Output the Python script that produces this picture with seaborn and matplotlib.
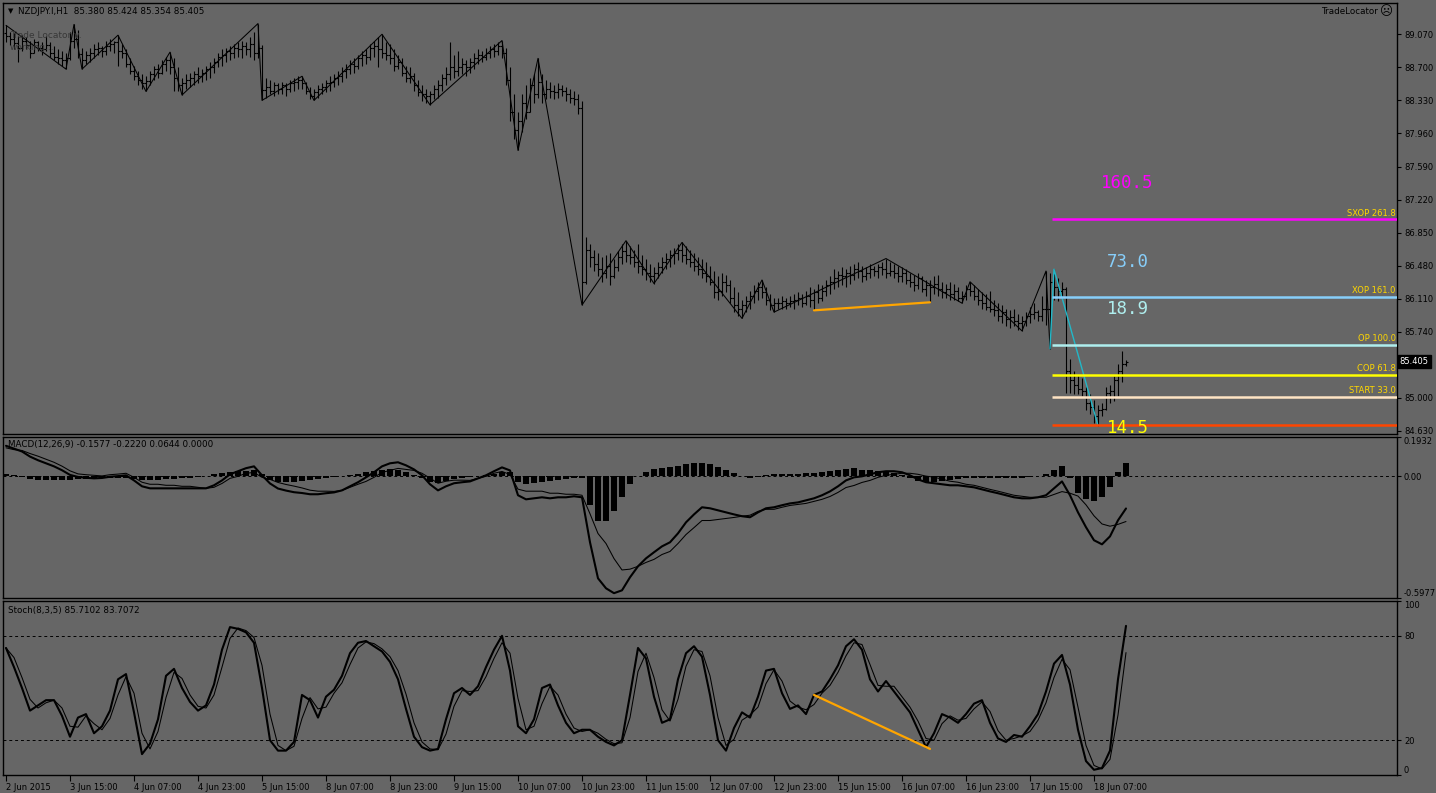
import numpy as np
import pandas as pd
import seaborn as sns
import matplotlib.pyplot as plt

sns.set_theme(style="ticks")
plt.rcParams['font.family'] = ['DejaVu Sans']

# --------------------- data: NZDJPY H1 bars (one value per bar) ---------------------
highs = [
    89.17, 89.10, 89.08, 89.05, 89.06, 89.04, 89.00, 89.02, 89.00, 88.98,
    89.05, 88.98, 88.94, 88.90, 88.88, 88.86, 89.10, 89.18, 89.12, 88.92,
    88.88, 88.92, 88.96, 88.98, 88.94, 89.00, 89.02, 89.00, 89.06, 88.96,
    88.90, 88.80, 88.72, 88.66, 88.62, 88.60, 88.66, 88.72, 88.74, 88.78,
    88.82, 88.87, 88.80, 88.70, 88.58, 88.62, 88.64, 88.66, 88.70, 88.68,
    88.72, 88.76, 88.80, 88.86, 88.90, 88.92, 88.94, 88.96, 88.98, 89.00,
    88.98, 89.04, 89.10, 89.19, 88.95, 88.58, 88.56, 88.54, 88.52, 88.54,
    88.52, 88.56, 88.58, 88.60, 88.60, 88.54, 88.48, 88.46, 88.50, 88.52,
    88.56, 88.60, 88.62, 88.66, 88.70, 88.74, 88.78, 88.80, 88.84, 88.88,
    88.90, 88.96, 89.00, 89.04, 89.07, 88.98, 88.96, 88.90, 88.84, 88.80,
    88.72, 88.70, 88.64, 88.56, 88.50, 88.46, 88.44, 88.50, 88.56, 88.62,
    88.70, 88.98, 88.84, 88.88, 88.80, 88.78, 88.80, 88.86, 88.90, 88.88,
    88.92, 88.94, 88.96, 88.98, 89.00, 88.92, 88.70, 88.40, 88.20, 88.40,
    88.50, 88.58, 88.62, 88.80, 88.62, 88.56, 88.54, 88.50, 88.52, 88.50,
    88.48, 88.46, 88.44, 88.40, 88.32, 86.80, 86.72, 86.66, 86.62, 86.58,
    86.60, 86.62, 86.56, 86.64, 86.72, 86.76, 86.70, 86.66, 86.72, 86.60,
    86.56, 86.50, 86.46, 86.52, 86.58, 86.62, 86.66, 86.68, 86.72, 86.74,
    86.70, 86.66, 86.62, 86.58, 86.56, 86.52, 86.48, 86.42, 86.36, 86.40,
    86.38, 86.32, 86.24, 86.18, 86.10, 86.14, 86.20, 86.26, 86.30, 86.32,
    86.24, 86.16, 86.12, 86.12, 86.14, 86.12, 86.14, 86.16, 86.18, 86.16,
    86.20, 86.24, 86.22, 86.28, 86.26, 86.32, 86.36, 86.44, 86.42, 86.46,
    86.44, 86.48, 86.50, 86.52, 86.48, 86.46, 86.50, 86.48, 86.50, 86.52,
    86.56, 86.52, 86.50, 86.48, 86.46, 86.44, 86.40, 86.38, 86.40, 86.36,
    86.32, 86.32, 86.36, 86.38, 86.30, 86.28, 86.30, 86.28, 86.24, 86.20,
    86.26, 86.30, 86.26, 86.22, 86.18, 86.16, 86.20, 86.10, 86.06, 86.04,
    86.00, 85.98, 86.00, 85.94, 85.92, 85.96, 86.02, 86.06, 85.98, 86.14,
    86.42, 86.40, 86.44, 86.34, 86.30, 86.24, 85.44, 85.30, 85.26, 85.22,
    85.12, 85.04, 84.98, 84.92, 84.94, 85.12, 85.14, 85.24, 85.38, 85.53,
    85.424,
]
lows = [
    88.98, 88.95, 88.90, 88.76, 88.88, 88.90, 88.80, 88.86, 88.88, 88.84,
    88.88, 88.82, 88.78, 88.74, 88.72, 88.68, 88.78, 88.92, 88.80, 88.68,
    88.74, 88.76, 88.80, 88.84, 88.82, 88.84, 88.88, 88.86, 88.72, 88.80,
    88.70, 88.62, 88.56, 88.50, 88.46, 88.43, 88.50, 88.56, 88.58, 88.62,
    88.66, 88.62, 88.44, 88.44, 88.39, 88.46, 88.48, 88.50, 88.52, 88.54,
    88.56, 88.58, 88.64, 88.70, 88.72, 88.76, 88.78, 88.80, 88.82, 88.80,
    88.84, 88.82, 88.78, 88.80, 88.33, 88.36, 88.40, 88.38, 88.40, 88.40,
    88.38, 88.42, 88.44, 88.46, 88.46, 88.40, 88.34, 88.33, 88.36, 88.40,
    88.42, 88.44, 88.48, 88.50, 88.54, 88.58, 88.62, 88.64, 88.68, 88.72,
    88.74, 88.78, 88.82, 88.70, 88.80, 88.78, 88.74, 88.66, 88.68, 88.60,
    88.54, 88.52, 88.44, 88.38, 88.32, 88.30, 88.28, 88.34, 88.36, 88.44,
    88.50, 88.56, 88.58, 88.60, 88.62, 88.60, 88.64, 88.68, 88.74, 88.76,
    88.78, 88.80, 88.82, 88.84, 88.80, 88.50, 88.10, 87.90, 87.77, 87.98,
    88.12, 88.20, 88.30, 88.36, 88.30, 88.34, 88.36, 88.34, 88.36, 88.38,
    88.32, 88.30, 88.28, 88.18, 86.04, 86.28, 86.46, 86.42, 86.36, 86.30,
    86.34, 86.26, 86.34, 86.42, 86.50, 86.52, 86.50, 86.46, 86.40, 86.38,
    86.32, 86.30, 86.28, 86.34, 86.40, 86.44, 86.46, 86.50, 86.54, 86.52,
    86.50, 86.46, 86.42, 86.38, 86.34, 86.30, 86.26, 86.12, 86.10, 86.14,
    86.18, 86.06, 85.96, 85.92, 85.89, 85.96, 86.00, 86.06, 86.10, 86.12,
    86.04, 85.98, 85.96, 86.00, 86.00, 86.00, 86.02, 86.00, 86.04, 86.02,
    86.04, 86.02, 85.98, 86.06, 86.08, 86.14, 86.16, 86.22, 86.24, 86.26,
    86.24, 86.28, 86.32, 86.34, 86.30, 86.32, 86.34, 86.36, 86.34, 86.38,
    86.34, 86.36, 86.34, 86.30, 86.30, 86.28, 86.24, 86.20, 86.22, 86.18,
    86.14, 86.07, 86.16, 86.14, 86.12, 86.12, 86.10, 86.10, 86.08, 86.06,
    86.10, 86.14, 86.10, 86.04, 86.00, 85.98, 85.96, 85.92, 85.86, 85.84,
    85.80, 85.78, 85.80, 85.76, 85.75, 85.80, 85.84, 85.88, 85.86, 85.86,
    85.82, 85.55, 86.10, 86.08, 86.12, 85.06, 85.06, 85.04, 85.04, 85.02,
    84.86, 84.82, 84.72, 84.69, 84.80, 84.86, 84.94, 84.96, 85.02, 85.18,
    85.354,
]
closes = [
    89.05, 89.02, 88.97, 88.92, 89.00, 88.95, 88.86, 88.98, 88.92, 88.90,
    88.95, 88.86, 88.82, 88.80, 88.78, 88.80, 89.00, 89.02, 88.85, 88.78,
    88.84, 88.86, 88.90, 88.92, 88.88, 88.94, 88.96, 88.98, 88.88, 88.86,
    88.74, 88.66, 88.60, 88.56, 88.52, 88.55, 88.62, 88.68, 88.64, 88.74,
    88.78, 88.70, 88.58, 88.50, 88.52, 88.56, 88.58, 88.62, 88.60, 88.64,
    88.68, 88.70, 88.76, 88.82, 88.84, 88.88, 88.86, 88.92, 88.90, 88.94,
    88.90, 88.96, 88.86, 88.92, 88.45, 88.48, 88.44, 88.50, 88.46, 88.50,
    88.46, 88.52, 88.54, 88.56, 88.52, 88.44, 88.38, 88.42, 88.46, 88.48,
    88.52, 88.54, 88.58, 88.60, 88.66, 88.68, 88.74, 88.72, 88.80, 88.84,
    88.82, 88.92, 88.94, 88.90, 88.86, 88.84, 88.80, 88.72, 88.76, 88.64,
    88.58, 88.60, 88.50, 88.42, 88.40, 88.38, 88.40, 88.46, 88.50, 88.58,
    88.62, 88.70, 88.66, 88.70, 88.74, 88.70, 88.76, 88.80, 88.84, 88.82,
    88.86, 88.90, 88.88, 88.94, 88.86, 88.56, 88.20, 88.00, 88.10, 88.30,
    88.20, 88.50, 88.40, 88.54, 88.40, 88.46, 88.44, 88.42, 88.46, 88.44,
    88.40, 88.36, 88.34, 88.24, 86.30, 86.66, 86.58, 86.50, 86.44, 86.40,
    86.48, 86.36, 86.46, 86.58, 86.64, 86.60, 86.58, 86.52, 86.48, 86.44,
    86.40, 86.36, 86.40, 86.46, 86.52, 86.56, 86.60, 86.62, 86.66, 86.60,
    86.56, 86.52, 86.48, 86.44, 86.40, 86.36, 86.30, 86.18, 86.20, 86.30,
    86.26, 86.12, 86.04, 86.00, 86.04, 86.08, 86.14, 86.20, 86.24, 86.18,
    86.10, 86.04, 86.06, 86.06, 86.08, 86.06, 86.08, 86.10, 86.12, 86.06,
    86.14, 86.10, 86.18, 86.12, 86.20, 86.26, 86.30, 86.34, 86.38, 86.36,
    86.40, 86.38, 86.44, 86.42, 86.36, 86.40, 86.44, 86.42, 86.46, 86.44,
    86.40, 86.42, 86.40, 86.36, 86.40, 86.32, 86.30, 86.26, 86.34, 86.22,
    86.26, 86.24, 86.28, 86.22, 86.18, 86.22, 86.16, 86.20, 86.12, 86.14,
    86.22, 86.20, 86.14, 86.10, 86.06, 86.02, 86.00, 85.98, 85.92, 85.96,
    85.88, 85.90, 85.86, 85.84, 85.86, 85.92, 85.94, 85.96, 85.92, 86.00,
    86.00, 86.30, 86.24, 86.20, 86.22, 85.30, 85.20, 85.14, 85.10, 85.08,
    84.94, 84.90, 84.80, 84.86, 84.88, 85.06, 85.08, 85.20, 85.30, 85.38,
    85.405,
]
first_open = 89.08

# zigzag pivots (bar index, price)
zz_bars = [0, 15, 17, 19, 28, 35, 41, 44, 63, 64, 74, 77, 94, 106, 124, 128, 133,
           144, 155, 162, 169, 184, 189, 192, 220, 239, 241, 254, 260, 261]
zz_price = [89.17, 88.68, 89.18, 88.68, 89.06, 88.43, 88.87, 88.39, 89.19, 88.33,
            88.60, 88.33, 89.07, 88.28, 89.00, 87.77, 88.80, 86.04, 86.76, 86.28,
            86.74, 85.89, 86.32, 85.96, 86.56, 86.06, 86.30, 85.75, 86.42, 85.55]

# TradeLocator swing (cyan) and levels
swing_bars = [261, 262, 273]
swing_price = [85.55, 86.44, 84.69]
level_start = 261
level_names = ['SXOP 261.8', 'XOP 161.0', 'OP 100.0', 'COP 61.8', 'START 33.0', '']
level_prices = [87.003, 86.133, 85.596, 85.260, 85.014, 84.700]
big_labels = ['160.5', '73.0', '18.9', '14.5']
big_label_prices = [87.40, 86.52, 85.99, 84.66]

# divergence lines (orange)
div_bars = [202, 231]
div_price = [85.98, 86.07]
div_stoch = [46, 15]

# MACD(12,26,9), sampled every 2 bars
macd_main = [
    0.150, 0.136, 0.122, 0.097, 0.079, 0.064, 0.049, 0.030, 0.007, -0.003,
    -0.007, -0.010, -0.008, -0.002, 0.001, 0.005, -0.020, -0.049, -0.059, -0.059,
    -0.059, -0.059, -0.059, -0.059, -0.059, -0.059, -0.044, -0.020, 0.010, 0.025,
    0.040, 0.049, 0.005, -0.035, -0.060, -0.070, -0.078, -0.082, -0.088, -0.088,
    -0.083, -0.079, -0.069, -0.049, -0.029, -0.005, 0.020, 0.049, 0.064, 0.069,
    0.054, 0.034, 0.005, -0.039, -0.069, -0.049, -0.034, -0.029, -0.025, -0.010,
    0.005, 0.025, 0.044, 0.029, -0.093, -0.113, -0.108, -0.103, -0.108, -0.103,
    -0.103, -0.098, -0.103, -0.324, -0.501, -0.550, -0.574, -0.560, -0.496, -0.442,
    -0.403, -0.373, -0.344, -0.324, -0.280, -0.226, -0.187, -0.152, -0.157, -0.167,
    -0.177, -0.187, -0.196, -0.201, -0.177, -0.157, -0.152, -0.142, -0.133, -0.128,
    -0.118, -0.108, -0.093, -0.074, -0.049, -0.020, -0.005, 0.000, 0.010, 0.020,
    0.025, 0.025, 0.020, 0.005, -0.015, -0.029, -0.034, -0.039, -0.044, -0.044,
    -0.049, -0.054, -0.064, -0.074, -0.083, -0.093, -0.103, -0.108, -0.108, -0.103,
    -0.093, -0.059, -0.025, -0.093, -0.177, -0.250, -0.314, -0.334, -0.295, -0.216,
    -0.158,
]
macd_hist = [
    0.010, 0.005, -0.005, -0.015, -0.020, -0.020, -0.020, -0.020, -0.020, -0.015,
    -0.015, -0.015, -0.010, -0.010, -0.010, -0.010, -0.015, -0.020, -0.020, -0.020,
    -0.015, -0.015, -0.010, -0.010, -0.005, 0.000, 0.010, 0.015, 0.020, 0.025,
    0.025, 0.030, 0.010, -0.020, -0.030, -0.030, -0.030, -0.025, -0.020, -0.015,
    -0.010, -0.005, 0.000, 0.005, 0.010, 0.020, 0.025, 0.030, 0.035, 0.030,
    0.020, 0.005, -0.010, -0.030, -0.035, -0.025, -0.015, -0.010, -0.005, 0.000,
    0.005, 0.010, 0.020, 0.020, -0.030, -0.040, -0.035, -0.030, -0.025, -0.020,
    -0.015, -0.010, -0.010, -0.140, -0.220, -0.220, -0.170, -0.100, -0.040, 0.000,
    0.020, 0.035, 0.040, 0.045, 0.050, 0.060, 0.065, 0.065, 0.060, 0.045,
    0.030, 0.015, 0.000, -0.010, -0.005, 0.005, 0.010, 0.010, 0.010, 0.010,
    0.015, 0.015, 0.020, 0.025, 0.030, 0.035, 0.040, 0.030, 0.030, 0.025,
    0.020, 0.015, 0.005, -0.010, -0.025, -0.030, -0.030, -0.025, -0.020, -0.015,
    -0.010, -0.010, -0.010, -0.010, -0.010, -0.010, -0.010, -0.010, -0.005, 0.000,
    0.010, 0.030, 0.050, -0.010, -0.080, -0.110, -0.120, -0.100, -0.050, 0.020,
    0.064,
]

# Stochastic(8,3,5) main line, sampled every 2 bars
stoch_k = [
    73, 62, 50, 37, 40, 43, 43, 34, 22, 33,
    35, 24, 28, 37, 55, 58, 36, 12, 18, 32,
    57, 61, 50, 42, 37, 40, 52, 72, 85, 84,
    82, 76, 50, 20, 14, 14, 19, 46, 43, 33,
    45, 49, 57, 70, 76, 77, 74, 71, 65, 55,
    38, 22, 16, 14, 15, 32, 47, 50, 46, 51,
    62, 72, 80, 60, 28, 24, 32, 50, 52, 40,
    30, 24, 26, 26, 22, 19, 17, 20, 46, 73,
    67, 45, 30, 32, 55, 70, 74, 68, 46, 20,
    14, 27, 36, 33, 45, 60, 61, 47, 38, 40,
    35, 46, 48, 55, 63, 74, 78, 72, 55, 48,
    54, 48, 42, 36, 26, 16, 24, 35, 33, 30,
    35, 41, 43, 30, 21, 19, 23, 22, 28, 35,
    48, 64, 69, 52, 26, 8, 3, 4, 14, 55,
    85.7,
]

# 85.370 is hidden behind the current-price box, as in MT4
price_ticks = [89.070, 88.700, 88.330, 87.960, 87.590, 87.220, 86.850, 86.480,
               86.110, 85.740, 85.000, 84.630]
macd_ticks = [0.1932, 0.0, -0.5977]
macd_tick_labels = ['0.1932', '0.00', '-0.5977']
stoch_ticks = [100, 80, 20, 0]
time_tick_bars = [0, 16, 32, 48, 64, 80, 96, 112, 128, 144, 160, 176, 192, 208, 224, 240, 256, 272]
time_labels = ['2 Jun 2015', '3 Jun 15:00', '4 Jun 07:00', '4 Jun 23:00', '5 Jun 15:00',
               '8 Jun 07:00', '8 Jun 23:00', '9 Jun 15:00', '10 Jun 07:00', '10 Jun 23:00',
               '11 Jun 15:00', '12 Jun 07:00', '12 Jun 23:00', '15 Jun 15:00', '16 Jun 07:00',
               '16 Jun 23:00', '17 Jun 15:00', '18 Jun 07:00']

# --------------------- figure ---------------------
BG = '#666666'
fig = plt.figure(figsize=(14.36, 7.93), dpi=100, facecolor=BG)
ax_p = fig.add_axes([0.00209, 0.45271, 0.97075, 0.54351], facecolor=BG)
ax_m = fig.add_axes([0.00209, 0.24590, 0.97075, 0.20303], facecolor=BG)
ax_s = fig.add_axes([0.00209, 0.02270, 0.97075, 0.21942], facecolor=BG)
XLIM = (-0.75, 347.75)

# price bars
bar_x = np.arange(len(closes))
opens = [first_open] + closes[:-1]
ax_p.vlines(bar_x, lows, highs, color='black', lw=0.8)
ax_p.hlines(opens, bar_x - 0.45, bar_x, color='black', lw=0.8)
ax_p.hlines(closes, bar_x, bar_x + 0.45, color='black', lw=0.8)

sns.lineplot(x=zz_bars, y=zz_price, ax=ax_p, color='black', lw=0.75,
             sort=False, estimator=None)
sns.lineplot(x=div_bars, y=div_price, ax=ax_p, color='#FFA500', lw=1.6,
             sort=False, estimator=None)
sns.lineplot(x=swing_bars, y=swing_price, ax=ax_p, color='#22B8C8', lw=1.0,
             sort=False, estimator=None)

level_colors = ['#FF00FF', '#87CEFA', '#AFEEEE', '#FFFF00', '#FFE4C4', '#FF4500']
for name, price, col in zip(level_names, level_prices, level_colors):
    ax_p.hlines(price, level_start + 0.5, XLIM[1], color=col, lw=1.8, zorder=3)
    if name:
        ax_p.annotate(name, xy=(1, price), xycoords=('axes fraction', 'data'),
                      xytext=(-1, 1), textcoords='offset points', ha='right',
                      va='bottom', fontsize=6, color='#FFD700')

big_colors = ['#FF00FF', '#87CEFA', '#AFEEEE', '#FFFF00']
for txt, price, col in zip(big_labels, big_label_prices, big_colors):
    t = ax_p.text(bar_x[-1] + 0.4, price, txt, ha='center', va='center',
                  family='DejaVu Sans Mono', fontsize=12.5, color=col)
    t.set_clip_on(True)

ax_p.annotate('85.405', xy=(1, closes[-1]), xycoords=('axes fraction', 'data'),
              xytext=(2, 0), textcoords='offset points', ha='left', va='center',
              fontsize=6, color='white', annotation_clip=False, zorder=10,
              bbox=dict(boxstyle='square,pad=0.25', fc='black', ec='black'))

ax_p.set_ylim(84.596, 89.420)
ax_p.set_yticks(price_ticks)
ax_p.set_yticklabels([f'{v:.3f}' for v in price_ticks])

# MACD panel
sample_x = 2 * np.arange(len(macd_main))
macd_signal = np.array(macd_main) - np.array(macd_hist)
ax_m.bar(sample_x, macd_hist, width=1.6, color='black', linewidth=0)
ax_m.axhline(0, color='black', lw=0.7, ls=(0, (3, 3)))
sns.lineplot(x=sample_x, y=macd_main, ax=ax_m, color='black', lw=1.5, estimator=None)
sns.lineplot(x=sample_x, y=macd_signal, ax=ax_m, color='black', lw=0.75, estimator=None)
ax_m.set_ylim(-0.5977, 0.1932)
ax_m.set_yticks(macd_ticks)
ax_m.set_yticklabels(macd_tick_labels)

# Stochastic panel
k = pd.Series(stoch_k, dtype=float)
d = k.rolling(2, min_periods=1).mean()
stoch_x = 2 * np.arange(len(k))
ax_s.axhline(80, color='black', lw=0.7, ls=(0, (3, 3)))
ax_s.axhline(20, color='black', lw=0.7, ls=(0, (3, 3)))
sns.lineplot(x=stoch_x, y=k.values, ax=ax_s, color='black', lw=1.5, estimator=None)
sns.lineplot(x=stoch_x, y=d.values, ax=ax_s, color='black', lw=0.75, estimator=None)
sns.lineplot(x=div_bars, y=div_stoch, ax=ax_s, color='#FFA500', lw=1.6,
             sort=False, estimator=None)
ax_s.set_ylim(0, 100)
ax_s.set_yticks(stoch_ticks)
ax_s.set_yticklabels([str(v) for v in stoch_ticks])

for ax in (ax_p, ax_m, ax_s):
    ax.set_xlim(*XLIM)
    ax.set_xlabel('')
    ax.set_ylabel('')
    ax.yaxis.tick_right()
    ax.tick_params(axis='y', left=False, right=True, direction='out', length=3,
                   width=0.8, color='black', labelsize=6, labelcolor='black', pad=2)
    for sp in ax.spines.values():
        sp.set_color('black')
        sp.set_linewidth(1)
ax_p.set_xticks([])
ax_m.set_xticks([])

for lbl in ax_m.get_yticklabels():
    if lbl.get_text() == '0.1932':
        lbl.set_va('top')
    elif lbl.get_text() == '-0.5977':
        lbl.set_va('bottom')
for lbl in ax_s.get_yticklabels():
    if lbl.get_text() == '100':
        lbl.set_va('top')
    elif lbl.get_text() == '0':
        lbl.set_va('bottom')

ax_s.set_xticks(time_tick_bars)
ax_s.set_xticklabels(time_labels)
ax_s.tick_params(axis='x', bottom=True, direction='out', length=4, width=0.8,
                 color='black', labelsize=6, labelcolor='black', pad=2)
for lbl in ax_s.get_xticklabels():
    lbl.set_ha('left')

# headers and indicator captions
W, H = 1436, 793
fig.text(8 / W, 1 - 11 / H, '▼', fontsize=5, va='center', color='black')
fig.text(18 / W, 1 - 11 / H, 'NZDJPY.I,H1  85.380 85.424 85.354 85.405',
         fontsize=6.3, va='center', color='black')
fig.text(10 / W, 1 - 35 / H, 'Trade Locator v.', fontsize=6.5, va='center', color='#383838')
fig.text(10 / W, 1 - 47 / H, 'working...', fontsize=6.5, va='center', color='#383838')
fig.text(1378 / W, 1 - 12 / H, 'TradeLocator', fontsize=6.3, ha='right', va='center',
         color='black')
fig.text(1386 / W, 1 - 12 / H, '☹', fontsize=9, ha='center', va='center', color='black')
fig.text(8 / W, 1 - 445 / H, 'MACD(12,26,9) -0.1577 -0.2220 0.0644 0.0000',
         fontsize=6.3, va='center', color='black')
fig.text(8 / W, 1 - 610 / H, 'Stoch(8,3,5) 85.7102 83.7072',
         fontsize=6.3, va='center', color='black')

fig.savefig('out.png', dpi=100, facecolor=BG)
